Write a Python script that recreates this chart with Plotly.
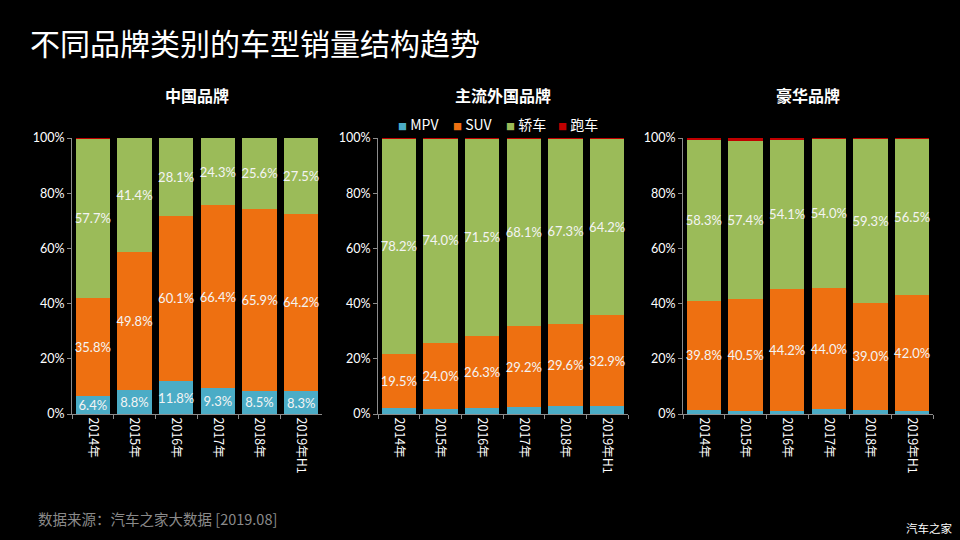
import plotly.graph_objects as go

years = ["2014年", "2015年", "2016年", "2017年", "2018年", "2019年H1"]
series_names = ["MPV", "SUV", "轿车", "跑车"]
colors = ["#4bacc6", "#ee7011", "#9bbb59", "#c00000"]
y_ticks = [0, 20, 40, 60, 80, 100]
y_tick_text = ["0%", "20%", "40%", "60%", "80%", "100%"]

# 中国品牌
cn_mpv = [6.4, 8.8, 11.8, 9.3, 8.5, 8.3]
cn_suv = [35.8, 49.8, 60.1, 66.4, 65.9, 64.2]
cn_sedan = [57.7, 41.4, 28.1, 24.3, 25.6, 27.5]
cn_sport = [0.1, 0.0, 0.0, 0.0, 0.0, 0.0]

# 主流外国品牌
fr_mpv = [2.2, 1.9, 2.1, 2.6, 3.0, 2.8]
fr_suv = [19.5, 24.0, 26.3, 29.2, 29.6, 32.9]
fr_sedan = [78.2, 74.0, 71.5, 68.1, 67.3, 64.2]
fr_sport = [0.1, 0.1, 0.1, 0.1, 0.1, 0.1]

# 豪华品牌
lx_mpv = [1.3, 1.1, 1.2, 1.7, 1.4, 1.2]
lx_suv = [39.8, 40.5, 44.2, 44.0, 39.0, 42.0]
lx_sedan = [58.3, 57.4, 54.1, 54.0, 59.3, 56.5]
lx_sport = [0.6, 1.0, 0.5, 0.3, 0.3, 0.3]

panel_titles = ["中国品牌", "主流外国品牌", "豪华品牌"]
panels = [
    [cn_mpv, cn_suv, cn_sedan, cn_sport],
    [fr_mpv, fr_suv, fr_sedan, fr_sport],
    [lx_mpv, lx_suv, lx_sedan, lx_sport],
]
# which series show value labels per panel
label_flags = [
    [True, True, True, False],
    [False, True, True, False],
    [False, True, True, False],
]

font_family = "Noto Sans CJK SC, Lato, sans-serif"
label_font = "Lato, Noto Sans CJK SC, sans-serif"

fig = go.Figure()
x_domains = [(72 / 960, 322 / 960), (378 / 960, 628 / 960), (683 / 960, 933 / 960)]
y_domain = (1 - 414 / 540, 1 - 138 / 540)
legend_item_x = [396, 451, 504, 556]  # pixel left edge of each legend entry

for p, data in enumerate(panels):
    xa = "x" if p == 0 else f"x{p+1}"
    ya = "y" if p == 0 else f"y{p+1}"
    for s, vals in enumerate(data):
        show = label_flags[p][s]
        fig.add_trace(go.Bar(
            x=years, y=vals, name=series_names[s],
            marker=dict(color=colors[s], line=dict(width=0)),
            xaxis=xa, yaxis=ya,
            showlegend=False,
            texttemplate="%{y:.1f}%" if show else None,
            textposition="inside" if show else "none",
            insidetextanchor="middle",
            textangle=0,
            constraintext="none",
            textfont=dict(color="#f4f4f4", size=13, family=label_font),
        ))

layout = dict(
    width=960, height=540, autosize=False,
    paper_bgcolor="#000000", plot_bgcolor="#000000",
    margin=dict(l=0, r=0, t=0, b=0, pad=0, autoexpand=False),
    barmode="stack", bargap=0.17,
    font=dict(family=font_family, color="#ffffff"),
    showlegend=False,
)
for p in range(3):
    sx = "" if p == 0 else str(p + 1)
    layout[f"xaxis{sx}"] = dict(
        domain=list(x_domains[p]), anchor=f"y{sx}", automargin=False,
        showline=True, linecolor="#8c8c8c", linewidth=1,
        ticks="outside", tickson="boundaries", ticklen=4, tickcolor="#8c8c8c",
        tickangle=90, tickfont=dict(size=12.5, color="#ffffff", family=font_family),
        showgrid=False, zeroline=False, fixedrange=True,
    )
    layout[f"yaxis{sx}"] = dict(
        domain=list(y_domain), anchor=f"x{sx}", range=[0, 100], automargin=False,
        tickmode="array", tickvals=y_ticks, ticktext=y_tick_text,
        showline=True, linecolor="#8c8c8c", linewidth=1,
        ticks="outside", ticklen=4, tickcolor="#8c8c8c",
        tickfont=dict(size=12.5, color="#ffffff", family=label_font),
        showgrid=False, zeroline=False, fixedrange=True,
    )
fig.update_layout(**layout)

annotations = [
    dict(text="不同品牌类别的车型销量结构趋势", x=28 / 960, y=1 - 42 / 540, xref="paper", yref="paper",
         xanchor="left", yanchor="middle", showarrow=False,
         font=dict(size=30, color="#ffffff", family=font_family)),
    dict(text="数据来源：汽车之家大数据 [2019.08]", x=36 / 960, y=1 - 518 / 540, xref="paper", yref="paper",
         xanchor="left", yanchor="middle", showarrow=False,
         font=dict(size=14.5, color="#8a8a8a", family=font_family)),
    dict(text="汽车之家", x=955 / 960, y=1 - 528 / 540, xref="paper", yref="paper",
         xanchor="right", yanchor="middle", showarrow=False,
         font=dict(size=11.5, color="#ffffff", family=font_family)),
]
# compact legend: small coloured squares right next to the names
for n, c, lx in zip(series_names, colors, legend_item_x):
    annotations.append(dict(
        text=f"<span style='color:{c};font-size:9px'>■</span> {n}",
        x=lx / 960, y=1 - 124 / 540, xref="paper", yref="paper",
        xanchor="left", yanchor="middle", showarrow=False,
        font=dict(size=14, color="#ffffff", family=font_family)))
for p in range(3):
    cx = (x_domains[p][0] + x_domains[p][1]) / 2
    annotations.append(dict(
        text=f"<b>{panel_titles[p]}</b>", x=cx, y=1 - 95 / 540, xref="paper", yref="paper",
        xanchor="center", yanchor="middle", showarrow=False,
        font=dict(size=16, color="#ffffff", family=font_family)))
fig.update_layout(annotations=annotations)

fig.write_html(
    "out.html",
    config={"displayModeBar": False},
    post_script="document.body.style.margin='0';document.body.style.background='#000';",
)
